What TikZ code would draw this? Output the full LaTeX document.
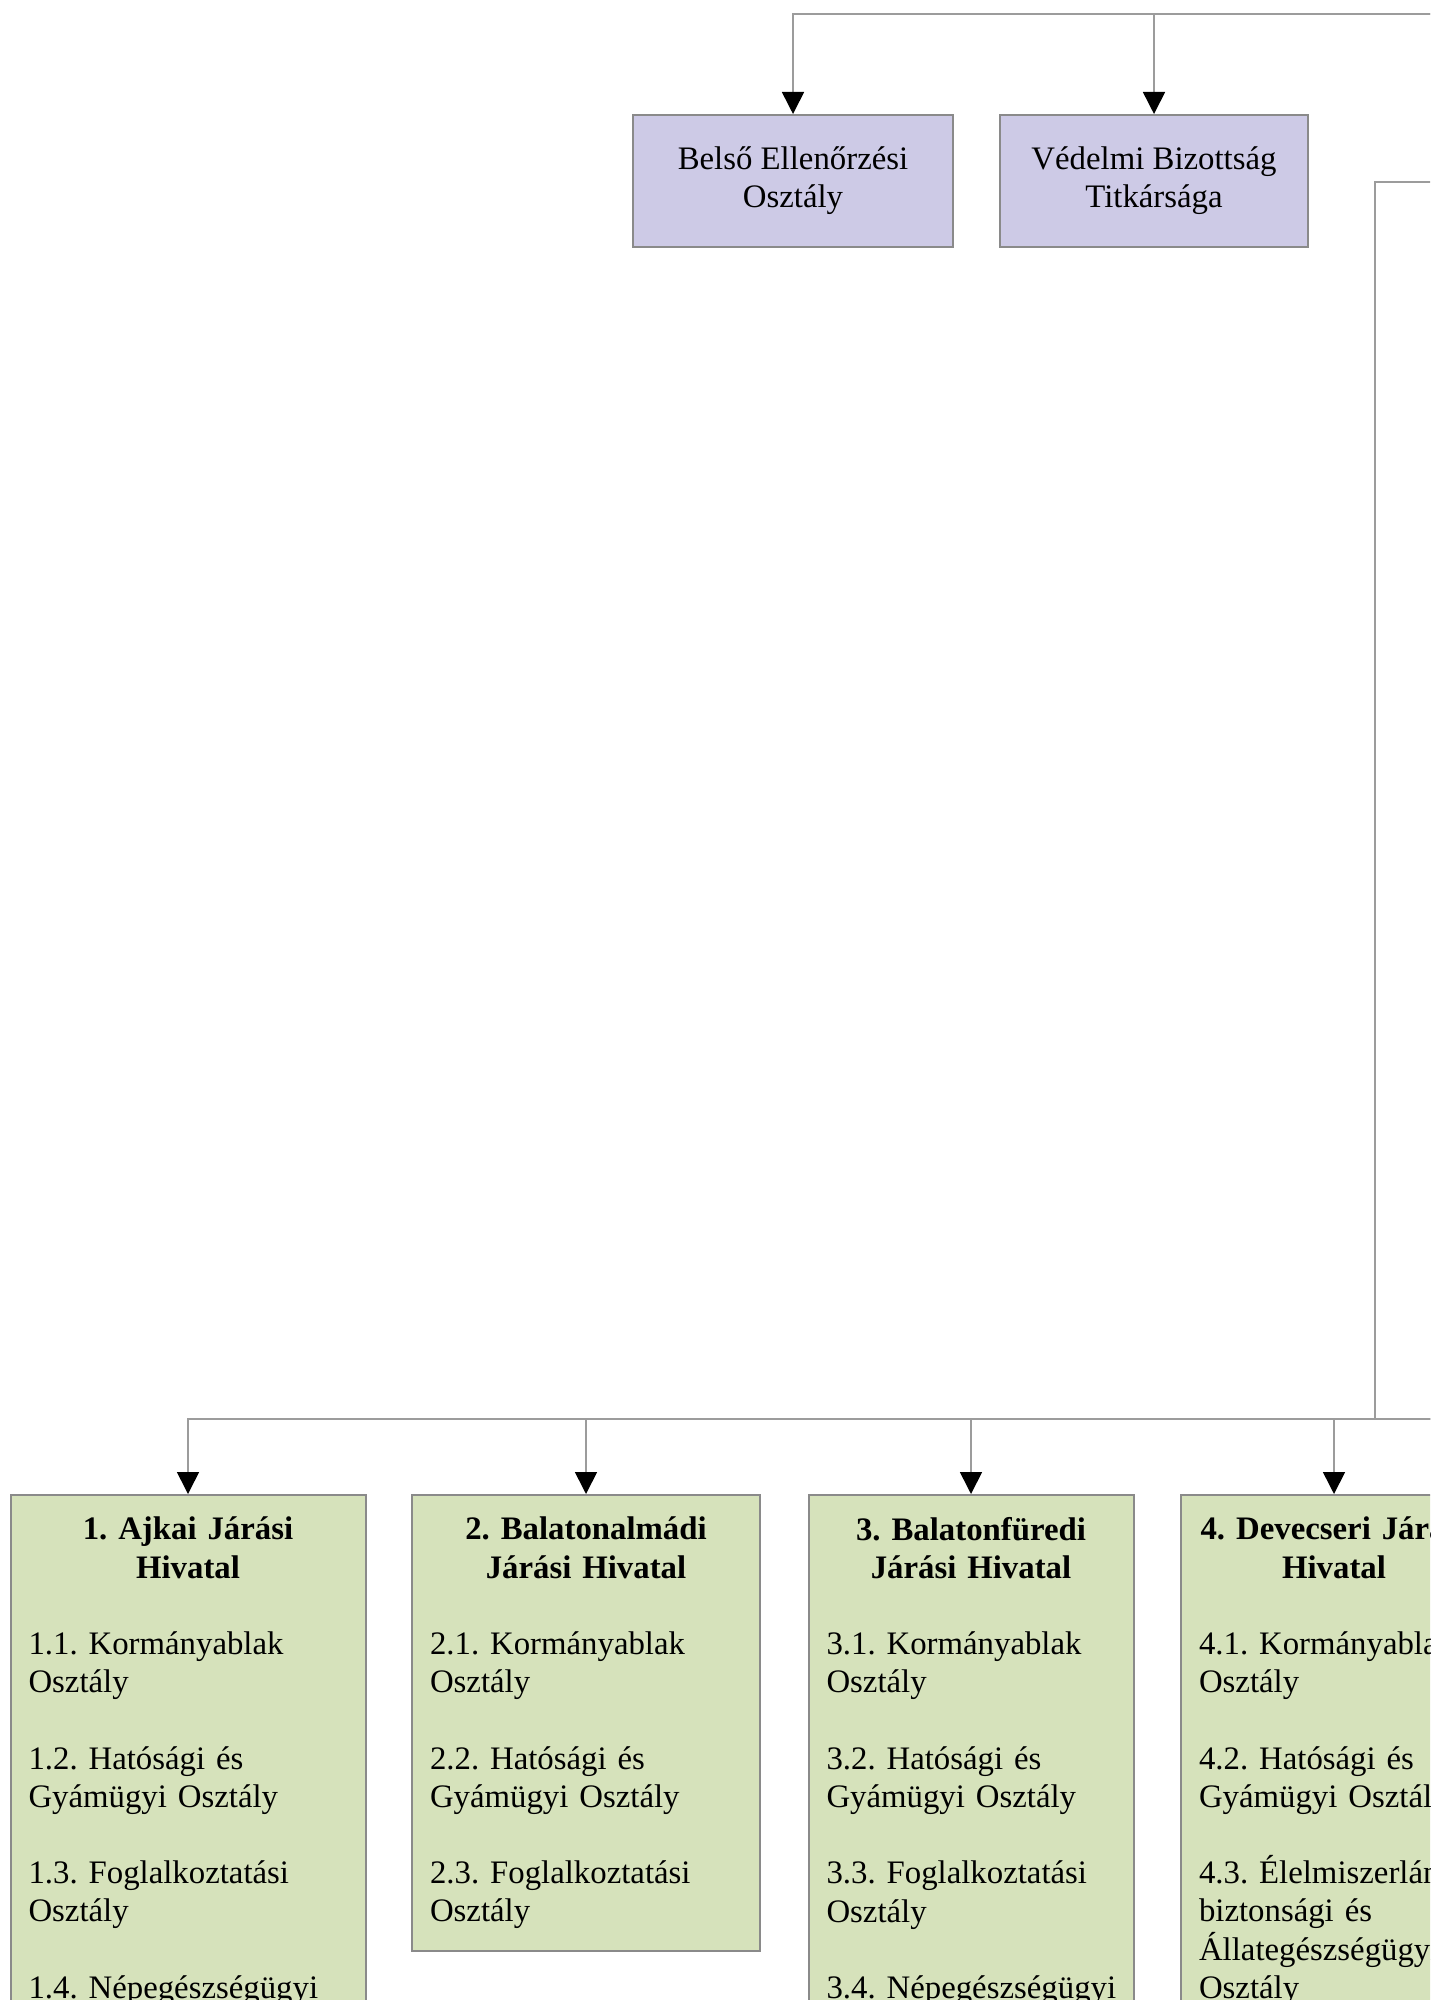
\documentclass[tikz,border=0pt]{standalone}
\usepackage{fontspec}
\setmainfont{Liberation Serif}
\usepackage{xcolor}
\usetikzlibrary{arrows.meta,positioning}
\definecolor{lila}{HTML}{CDCAE6}
\definecolor{zold}{HTML}{D6E2BB}
\definecolor{keret}{HTML}{8A8A8A}
\definecolor{vonalszin}{HTML}{9C9C9C}
\newcommand{\betumeret}{\fontsize{16.4}{19.1}\selectfont\frenchspacing\hyphenpenalty10000\relax}
\tikzset{
  betu/.style={font=\betumeret},
  osztaly/.style={betu, draw=keret, line width=1pt, fill=lila, minimum width=#1, minimum height=66pt, align=center, inner sep=0pt},
  jaras/.style={betu, draw=keret, line width=1pt, fill=zold, text width=#1, inner xsep=9pt, inner ysep=11pt, align=left, anchor=north},
  vonal/.style={draw=vonalszin, line width=0.8pt},
  nyil/.style={vonal, -{Triangle[width=11pt,length=11pt,color=black]}}
}

\begin{document}
\begin{tikzpicture}[x=0.5pt,y=-0.5pt]
\useasboundingbox (0,0) rectangle (1430,2000);
\clip (0,0) rectangle (1430,2000);
% felso sor
\node[osztaly=160pt] (belso) at (793,181) {Belső Ellenőrzési\\Osztály};
\node[osztaly=154pt] (vedelmi) at (1154,181) {Védelmi Bizottság\\Titkársága};
% jarasi hivatalok
\node[jaras=159.5pt] (j1) at (188,1494) {{\centering\bfseries 1. Ajkai Járási\\Hivatal\par}\vspace{\baselineskip}
1.1. Kormányablak\\Osztály\\[\baselineskip]
1.2. Hatósági és\\Gyámügyi Osztály\\[\baselineskip]
1.3. Foglalkoztatási\\Osztály\\[\baselineskip]
1.4.~Népegészségügyi};
\node[jaras=156pt] (j2) at (586,1494) {{\centering\bfseries 2. Balatonalmádi\\Járási Hivatal\par}\vspace{\baselineskip}
2.1. Kormányablak\\Osztály\\[\baselineskip]
2.2. Hatósági és\\Gyámügyi Osztály\\[\baselineskip]
2.3. Foglalkoztatási\\Osztály};
\node[jaras=144.5pt] (j3) at (971,1494) {{\centering\bfseries 3. Balatonfüredi\\Járási Hivatal\par}\vspace{\baselineskip}
3.1. Kormányablak\\Osztály\\[\baselineskip]
3.2. Hatósági és\\Gyámügyi Osztály\\[\baselineskip]
3.3. Foglalkoztatási\\Osztály\\[\baselineskip]
3.4.~Népegészségügyi};
\node[jaras=135pt] (j4) at (1334,1494) {{\centering\bfseries 4.~Devecseri~Járási\\Hivatal\par}\vspace{\baselineskip}
4.1.~Kormányablak\\Osztály\\[\baselineskip]
4.2. Hatósági és\\Gyámügyi Osztály\\[\baselineskip]
4.3.~Élelmiszerlánc-\\biztonsági és\\Állategészségügyi\\Osztály};
% kapcsolatok
\coordinate (fent) at (1440,14);
\coordinate (jobb) at (1440,182);
\coordinate (lent) at (1440,1419);
\coordinate (elag) at (1375,1419);
\draw[nyil] (fent) -| (belso);
\draw[nyil] (fent) -| (vedelmi);
\draw[vonal] (jobb) -| (elag);
\foreach \j in {j1,j2,j3,j4}
  \draw[nyil] (lent) -| (\j);
\end{tikzpicture}
\end{document}
